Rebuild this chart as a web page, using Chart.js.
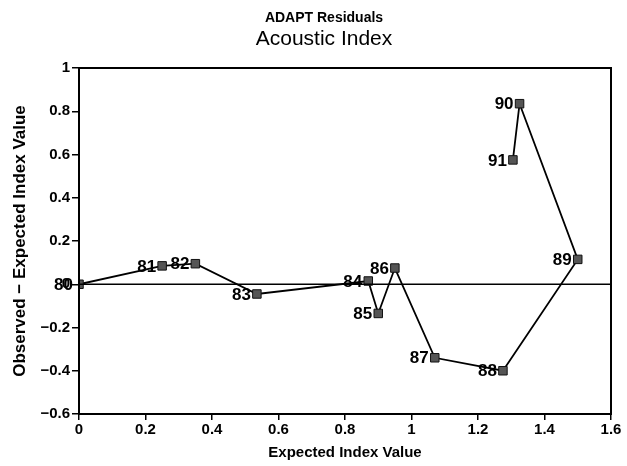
<!DOCTYPE html>
<html>
<head>
<meta charset="utf-8">
<script src="https://cdn.jsdelivr.net/npm/chart.js@4.4.0/dist/chart.umd.min.js"></script>
<style>
  html, body { margin: 0; padding: 0; background: #fff; }
  #wrap { width: 627px; height: 466px; }
</style>
</head>
<body>
<div id="wrap"><canvas id="chartCanvas"></canvas></div>
<script>
// Residuals
const pointLabels = ['80', '81', '82', '83', '84', '85', '86', '87', '88', '89', '90', '91'];
const expected = [0, 0.25, 0.35, 0.535, 0.87, 0.90, 0.95, 1.07, 1.275, 1.50, 1.325, 1.305];
const residual = [0, 0.085, 0.095, -0.045, 0.015, -0.135, 0.075, -0.34, -0.40, 0.115, 0.835, 0.575];
const xTicks = [0, 0.2, 0.4, 0.6, 0.8, 1, 1.2, 1.4, 1.6];
const yTicks = [-0.6, -0.4, -0.2, 0, 0.2, 0.4, 0.6, 0.8, 1];

const FONT = '"Liberation Sans", Arial, sans-serif';
const ctx = document.getElementById('chartCanvas').getContext('2d');

const points = expected.map((x, i) => ({ x: x, y: residual[i] }));
const zeroLine = [{ x: xTicks[0], y: 0 }, { x: xTicks[xTicks.length - 1], y: 0 }];

// titles, frame and point numbers
const extras = {
    id: 'extras',
    afterDatasetsDraw(chart) {
        const c = chart.ctx;
        const a = chart.chartArea;
        c.save();
        c.strokeStyle = '#000';
        c.lineWidth = 2;
        c.strokeRect(a.left, a.top, a.right - a.left, a.bottom - a.top);

        c.fillStyle = '#000';
        c.textAlign = 'center';
        c.textBaseline = 'middle';
        c.font = 'bold 14px ' + FONT;
        c.fillText('ADAPT Residuals', 324, 18);
        c.font = '21px ' + FONT;
        c.fillText('Acoustic Index', 324, 39);

        const xs = chart.scales.x, ys = chart.scales.y;
        c.font = 'bold 17px ' + FONT;
        c.textAlign = 'right';
        points.forEach((p, i) => {
            c.fillText(pointLabels[i], xs.getPixelForValue(p.x) - 6, ys.getPixelForValue(p.y) + 1);
        });
        c.restore();
    }
};

new Chart(ctx, {
    type: 'scatter',
    data: {
        datasets: [
            {
                data: zeroLine,
                showLine: true,
                borderColor: '#000',
                borderWidth: 1.5,
                pointRadius: 0
            },
            {
                data: points,
                showLine: true,
                borderColor: '#000',
                borderWidth: 1.8,
                pointStyle: 'rect',
                pointRadius: 6,
                backgroundColor: '#555',
                pointBorderColor: '#111',
                pointBorderWidth: 1
            }
        ]
    },
    options: {
        responsive: true,
        maintainAspectRatio: false,
        animation: false,
        layout: { padding: { top: 68, right: 16, left: 0, bottom: 0 } },
        plugins: {
            legend: { display: false },
            tooltip: { enabled: false }
        },
        scales: {
            x: {
                type: 'linear',
                min: 0,
                max: 1.6,
                afterFit: s => { s.height = 52; },
                afterBuildTicks: s => { s.ticks = xTicks.map(v => ({ value: v })); },
                grid: { drawOnChartArea: false, drawTicks: true, tickLength: 6, color: '#000', lineWidth: 1.5 },
                border: { color: '#000', width: 2 },
                ticks: {
                    color: '#000',
                    padding: 1,
                    maxRotation: 0,
                    font: { family: FONT, size: 15, weight: 'bold' },
                    callback: v => String(Math.round(v * 10) / 10)
                },
                title: {
                    display: true,
                    text: 'Expected Index Value',
                    color: '#000',
                    padding: { top: 0, bottom: 4 },
                    font: { family: FONT, size: 15, weight: 'bold' }
                }
            },
            y: {
                type: 'linear',
                min: -0.6,
                max: 1,
                afterFit: s => { s.width = 79; },
                afterBuildTicks: s => { s.ticks = yTicks.map(v => ({ value: v })); },
                grid: { drawOnChartArea: false, drawTicks: true, tickLength: 7, color: '#000', lineWidth: 1.5 },
                border: { color: '#000', width: 2 },
                ticks: {
                    color: '#000',
                    padding: 2,
                    font: { family: FONT, size: 15, weight: 'bold' },
                    callback: v => String(Math.round(v * 10) / 10).replace('-', '\u2212')
                },
                title: {
                    display: true,
                    text: 'Observed \u2212 Expected Index Value',
                    color: '#000',
                    padding: { top: 10, bottom: 0 },
                    font: { family: FONT, size: 17, weight: 'bold' }
                }
            }
        }
    },
    plugins: [extras]
});
</script>
</body>
</html>
